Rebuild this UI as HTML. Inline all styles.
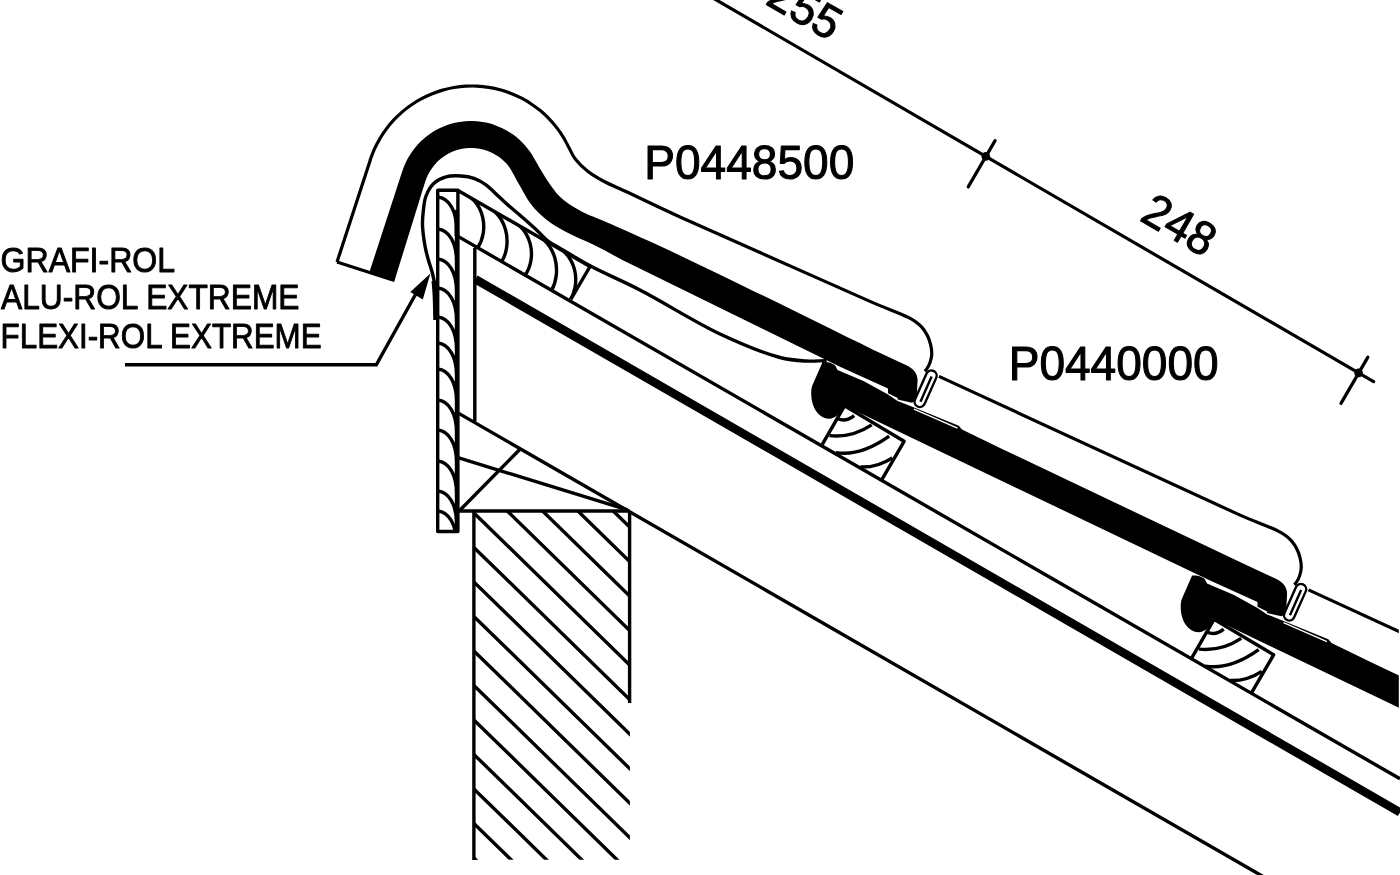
<!DOCTYPE html>
<html><head><meta charset="utf-8"><style>
html,body{margin:0;padding:0;background:#fff;width:1400px;height:875px;overflow:hidden}
svg{display:block;will-change:transform}
</style></head><body>
<svg width="1400" height="875" viewBox="0 0 1400 875">
<rect width="1400" height="875" fill="#fff"/>
<line x1="690.0" y1="-15.3" x2="1373.6" y2="381.6" stroke="#000" stroke-width="3.2" stroke-linecap="round"/>
<line x1="968.2" y1="186.9" x2="995.1" y2="140.6" stroke="#000" stroke-width="3.2" stroke-linecap="round"/>
<circle cx="985.8" cy="156.4" r="4.3"/>
<line x1="1341.0" y1="403.4" x2="1367.9" y2="357.1" stroke="#000" stroke-width="3.2" stroke-linecap="round"/>
<circle cx="1358.6" cy="372.9" r="4.3"/>
<text x="0.6" y="272" font-size="35.8" stroke-width="0.95" font-family="Liberation Sans, sans-serif" fill="#000" stroke="#000" stroke-linejoin="round" textLength="174.5" lengthAdjust="spacingAndGlyphs">GRAFI-ROL</text>
<text x="1" y="309.4" font-size="35.8" stroke-width="0.95" font-family="Liberation Sans, sans-serif" fill="#000" stroke="#000" stroke-linejoin="round" textLength="298.5" lengthAdjust="spacingAndGlyphs">ALU-ROL EXTREME</text>
<text x="0.6" y="347.6" font-size="35.8" stroke-width="0.95" font-family="Liberation Sans, sans-serif" fill="#000" stroke="#000" stroke-linejoin="round" textLength="321" lengthAdjust="spacingAndGlyphs">FLEXI-ROL EXTREME</text>
<text x="644.3" y="178.6" font-size="49" stroke-width="1.1" font-family="Liberation Sans, sans-serif" fill="#000" stroke="#000" stroke-linejoin="round" textLength="210" lengthAdjust="spacingAndGlyphs">P0448500</text>
<text x="1008.7" y="379.8" font-size="49" stroke-width="1.1" font-family="Liberation Sans, sans-serif" fill="#000" stroke="#000" stroke-linejoin="round" textLength="210" lengthAdjust="spacingAndGlyphs">P0440000</text>
<text transform="translate(1138.5,219.8) rotate(30)" font-size="47" stroke-width="1.05" font-family="Liberation Sans, sans-serif" fill="#000" stroke="#000" stroke-linejoin="round" textLength="76" lengthAdjust="spacingAndGlyphs">248</text>
<text transform="translate(764.2,3.5) rotate(30)" font-size="47" stroke-width="1.05" font-family="Liberation Sans, sans-serif" fill="#000" stroke="#000" stroke-linejoin="round" textLength="76" lengthAdjust="spacingAndGlyphs">255</text>
<polyline points="125,364.8 376.3,364.8 418,290" fill="none" stroke="#000" stroke-width="3.4"/>
<polygon points="430.4,273.5 410.3,291.9 422.8,299.4"/>
<line x1="458.0" y1="236.4" x2="1400.0" y2="778.8" stroke="#000" stroke-width="3.4" stroke-linecap="butt"/>
<line x1="475.4" y1="279.2" x2="1400.0" y2="812.3" stroke="#000" stroke-width="8.5" stroke-linecap="butt"/>
<line x1="457.9" y1="412.9" x2="1270.0" y2="880.5" stroke="#000" stroke-width="3.4" stroke-linecap="butt"/>
<line x1="474.8" y1="248.0" x2="474.8" y2="421.5" stroke="#000" stroke-width="3.4" stroke-linecap="butt"/>
<rect x="437.7" y="190.3" width="20.2" height="341.2" fill="none" stroke="#000" stroke-width="3.4" stroke-linejoin="round"/>
<clipPath id="rb"><rect x="437.7" y="190.3" width="20.2" height="341.2"/></clipPath>
<path d="M437.7,197.0 C449,198.0 456.5,211.0 456.5,229.0 L456.5,257.0 M437.7,229.0 C449,230.0 456.5,243.0 456.5,261.0 L456.5,289.0 M437.7,259.0 C449,260.0 456.5,273.0 456.5,291.0 L456.5,319.0 M437.7,288.0 C449,289.0 456.5,302.0 456.5,320.0 L456.5,348.0 M437.7,317.0 C449,318.0 456.5,331.0 456.5,349.0 L456.5,377.0 M437.7,343.0 C449,344.0 456.5,357.0 456.5,375.0 L456.5,403.0 M437.7,369.0 C449,370.0 456.5,383.0 456.5,401.0 L456.5,429.0 M437.7,400.0 C449,401.0 456.5,414.0 456.5,432.0 L456.5,460.0 M437.7,430.0 C449,431.0 456.5,444.0 456.5,462.0 L456.5,490.0 M437.7,461.0 C449,462.0 456.5,475.0 456.5,493.0 L456.5,521.0 M437.7,491.0 C449,492.0 456.5,505.0 456.5,523.0 L456.5,551.0 M437.7,511.0 C449,512.0 456.5,525.0 456.5,543.0 L456.5,571.0" fill="none" stroke="#000" stroke-width="3.4" clip-path="url(#rb)"/>
<rect x="454.6" y="210" width="4.6" height="26" fill="#000"/>
<line x1="458.0" y1="511.0" x2="629.5" y2="511.0" stroke="#000" stroke-width="3.5" stroke-linecap="butt"/>
<line x1="458.0" y1="457.7" x2="627.7" y2="509.9" stroke="#000" stroke-width="3.4" stroke-linecap="butt"/>
<line x1="459.4" y1="510.8" x2="519.7" y2="449.5" stroke="#000" stroke-width="3.4" stroke-linecap="butt"/>
<line x1="473.9" y1="511.0" x2="473.9" y2="860.0" stroke="#000" stroke-width="3.4" stroke-linecap="butt"/>
<line x1="629.6" y1="511.0" x2="629.6" y2="703.0" stroke="#000" stroke-width="3.4" stroke-linecap="butt"/>
<clipPath id="wall"><rect x="473.9" y="512" width="156" height="347.8"/></clipPath>
<path d="M53.8,-104.5 L893.8,716.1 M53.8,-70.0 L893.8,750.6 M53.8,-35.5 L893.8,785.1 M53.8,-1.0 L893.8,819.6 M53.8,33.5 L893.8,854.1 M53.8,68.0 L893.8,888.6 M53.8,102.5 L893.8,923.1 M53.8,137.0 L893.8,957.6 M53.8,171.5 L893.8,992.1 M53.8,206.0 L893.8,1026.6 M53.8,240.5 L893.8,1061.1 M53.8,275.0 L893.8,1095.6 M53.8,309.5 L893.8,1130.1 M53.8,344.0 L893.8,1164.6 M53.8,378.5 L893.8,1199.1 M53.8,413.0 L893.8,1233.6 M53.8,447.5 L893.8,1268.1" fill="none" stroke="#000" stroke-width="3.4" stroke-linecap="round" clip-path="url(#wall)"/>
<path d="M458.0,190.5 L590.0,266.5 L570.8,299.4" fill="none" stroke="#000" stroke-width="3.4" stroke-linejoin="round" />
<clipPath id="raf"><polygon points="458,190.5 590,266.5 570.8,299.4 458,236.4"/></clipPath>
<path d="M458.0,190.5 C486.5,200.5 488.5,232.0 477.7,247.7 M478.5,202.3 C509.7,212.7 511.7,245.3 501.7,261.6 M503.0,216.4 C534.5,226.7 536.5,259.0 525.2,275.1 M528.0,230.8 C559.0,241.2 561.0,273.9 551.6,290.3 M550.0,243.5 C578.5,253.5 580.5,285.0 569.7,300.7" fill="none" stroke="#000" stroke-width="3.4" clip-path="url(#raf)"/>
<path d="M436.0,320.0 C435.9,313.3 435.9,306.0 435.7,300.0 C435.5,295.0 435.6,290.8 435.0,286.3 C434.4,281.8 433.5,277.4 432.4,273.0 C431.3,268.6 429.6,264.4 428.4,260.0 C427.1,255.4 425.9,251.2 425.0,246.0 C423.9,239.7 422.7,231.2 422.5,225.0 C422.3,220.2 422.7,216.5 423.2,212.0 C423.8,206.9 424.1,200.9 426.0,196.0 C427.8,191.3 430.5,186.4 434.0,183.2 C437.3,180.1 441.6,178.0 446.0,176.8 C450.6,175.5 456.4,175.7 461.2,176.0 C465.7,176.3 469.9,177.0 474.0,178.4 C478.2,179.9 482.5,182.4 486.0,184.8 C489.1,187.0 491.1,189.3 494.0,192.0 C497.6,195.3 501.8,199.4 506.0,203.2 C510.4,207.2 515.3,211.1 520.0,215.2 C524.9,219.5 530.2,224.1 535.0,228.5 C539.5,232.7 543.4,237.4 548.0,241.0 C552.4,244.4 556.5,246.2 562.0,249.5 C569.8,254.1 579.6,260.2 590.5,266.0 C604.6,273.5 621.7,280.5 640.0,290.0 C663.6,302.2 694.9,322.2 720.0,334.0 C741.1,343.9 764.1,353.3 780.0,357.5 C789.9,360.1 796.9,360.5 805.0,361.0 C812.5,361.5 819.5,360.7 826.7,360.6" fill="none" stroke="#000" stroke-width="3.4" stroke-linejoin="round" />
<path d="M433.6,281 C434.6,290 435.2,300 435.3,320" fill="none" stroke="#000" stroke-width="4.2" stroke-linejoin="round" />
<path d="M337,262.1 L370.3,159.9 L370.2,159.9 C371.6,156.3 372.8,152.6 374.4,149.1 C376.0,145.6 377.8,142.1 379.8,138.8 C381.7,135.4 383.9,132.2 386.2,129.1 C388.5,126.0 391.0,123.0 393.6,120.2 C396.3,117.3 399.1,114.6 402.0,112.1 C404.9,109.5 408.0,107.2 411.2,105.0 C414.4,102.8 417.7,100.7 421.1,98.9 C424.5,97.0 428.0,95.4 431.6,93.9 C435.2,92.5 438.9,91.2 442.6,90.1 C446.3,89.1 450.1,88.2 453.9,87.5 C457.7,86.9 461.6,86.4 465.5,86.2 C469.3,86.0 473.2,85.9 477.1,86.1 C481.0,86.3 484.8,86.7 488.7,87.3 C492.5,87.9 496.3,88.7 500.0,89.7 C503.8,90.7 507.5,92.0 511.1,93.4 C514.7,94.8 518.2,96.4 521.6,98.2 C525.1,100.0 528.4,102.0 531.6,104.2 C534.8,106.3 537.9,108.7 540.9,111.1 C543.9,113.6 546.7,116.3 549.4,119.1 C552.1,121.9 554.6,124.9 556.9,127.9 C559.3,131.0 561.5,134.2 563.5,137.5 C565.5,140.8 567.1,144.3 569.0,147.8 C570.9,151.3 572.2,155.0 574.9,158.5 C578.1,162.8 583.1,167.6 587.7,171.3 C592.2,174.9 596.6,177.4 602.3,180.5 C609.9,184.6 619.2,188.4 629.7,193.3 C643.9,200.0 664.2,209.7 680.0,217.0 C694.1,223.4 702.4,227.0 720.0,234.8 C754.1,249.9 820.0,279.2 870.0,301.4 C895,312.5 912,316 922,327.4 C931,338 933,352 931,359 C929.5,366 927,369 924.9,371.3" fill="none" stroke="#000" stroke-width="3.2" stroke-linejoin="round" />
<line x1="337.0" y1="262.1" x2="394.4" y2="280.5" stroke="#000" stroke-width="3.2" stroke-linecap="butt"/>
<path d="M369.6,271.6 L402.5,170.6 L402.5,170.8 C403.4,168.4 404.2,165.9 405.3,163.6 C406.3,161.2 407.5,158.9 408.8,156.7 C410.1,154.5 411.5,152.3 413.1,150.3 C414.6,148.2 416.2,146.2 418.0,144.3 C419.7,142.4 421.5,140.6 423.5,138.9 C425.4,137.2 427.4,135.6 429.5,134.2 C431.6,132.7 433.8,131.3 436.0,130.1 C438.3,128.8 440.6,127.7 443.0,126.7 C445.3,125.7 447.8,124.8 450.2,124.1 C452.7,123.3 455.2,122.7 457.7,122.2 C460.2,121.8 462.8,121.4 465.4,121.2 C467.9,121.0 470.5,121.0 473.1,121.0 C475.6,121.1 478.2,121.3 480.7,121.7 C483.3,122.0 485.8,122.5 488.3,123.1 C490.8,123.7 493.3,124.5 495.7,125.4 C498.1,126.2 500.5,127.3 502.8,128.4 C505.1,129.5 507.3,130.8 509.5,132.2 C511.7,133.5 513.8,135.0 515.8,136.6 C517.8,138.2 519.7,139.9 521.5,141.7 C523.4,143.5 525.1,145.4 526.7,147.4 C528.4,149.4 529.9,151.5 531.3,153.6 C532.7,155.8 533.5,157.5 535.2,160.3 C538.1,165.2 543.1,174.2 547.4,180.5 C551.5,186.4 555.1,192.1 560.2,196.9 C565.4,201.9 571.3,205.6 578.5,209.7 C587.7,214.9 598.5,218.5 611.4,224.3 C630.1,232.7 651.5,242.0 680.0,255.4 C728.3,278.1 809.1,318.5 873.6,350.0 L873.6,350 L906.4,365.2 C913,368.5 917.6,373 917.6,380.4 L916.8,394.8 C916.5,399 914.5,402 912,402.8 L897.6,399.6 L897.6,398 L888,393.2 L888,388.4 L840,366.8 L622.4,260  C612.6,254.8 602.8,249.3 593.1,244.5 C583.9,239.9 574.0,236.3 565.7,231.7 C558.3,227.7 551.5,223.7 545.6,218.9 C540.1,214.4 535.2,209.6 531.0,204.2 C526.7,198.7 523.6,192.2 520.0,186.0 C516.3,179.6 512.0,170.8 508.8,166.4 C507.1,164.0 505.8,162.9 504.1,161.3 C502.5,159.7 500.7,158.2 498.8,156.8 C496.9,155.5 494.9,154.3 492.8,153.2 C490.7,152.2 488.6,151.3 486.4,150.5 C484.2,149.8 481.9,149.2 479.6,148.8 C477.3,148.4 475.0,148.1 472.7,148.0 C470.4,147.9 468.0,148.0 465.7,148.3 C463.4,148.5 461.1,149.0 458.8,149.6 C456.6,150.2 454.4,150.9 452.2,151.8 C450.1,152.7 448.0,153.8 446.0,155.0 C444.1,156.2 442.1,157.6 440.4,159.1 C438.6,160.5 436.9,162.2 435.3,163.9 C433.8,165.6 432.3,167.5 431.1,169.4 C429.8,171.3 428.6,173.4 427.6,175.5 C426.6,177.6 425.9,179.8 425.1,182.0 L425.1,181.9 L394.4,281 Z" fill="#000" />
<path d="M822.6,362.1 C827,361.5 833,363 835.5,366 L837.5,370 L864,381.2 L888,394.6 L897.6,400.9 L910.4,406 L958.8,425.8 L962,429.5 L1000,448 L 1243.1,563.5 L 1275.9,578.7 C 1282.5,582.0 1287.1,586.5 1287.1,593.9 L 1286.3,608.3 C 1286.0,612.5 1284.0,615.5 1281.5,616.3 L 1267.1,613.1 L 1267.1,611.5 L 1257.5,606.7 L 1257.5,601.9 L 1209.5,580.3 L843.2,405 C840.5,413 836,418.5 829,418.7 C819,418.5 812,408 811.3,396 C811,391 811.5,388 812.3,385.5 Z" fill="#000"/>
<line x1="914" y1="409.2" x2="957.5" y2="428.2" stroke="#fff" stroke-width="1.3"/>
<path d="M822.3,444.4 L844.5,405.8 L904.1,441.3 L882,479.4" fill="none" stroke="#000" stroke-width="3.4" stroke-linejoin="round"/>
<path d="M837.8,418.7 Q846.0,422.2 854.2,415.6 M829.5,435.6 Q851.8,438.0 871.7,424.8 M835.7,452.6 Q860.3,456.8 889.2,436.2 M860.4,467.0 Q877.5,467.6 892.3,457.8" fill="none" stroke="#000" stroke-width="3.4"/>
<path d="M939,376.4 L1239.5,514.9 C 1264.5,526.0 1281.5,529.5 1291.5,540.9 C 1300.5,551.5 1302.5,565.5 1300.5,572.5 C 1299.0,579.5 1296.5,582.5 1294.4,584.8" fill="none" stroke="#000" stroke-width="3.2" stroke-linejoin="round"/>
<g transform="translate(925.6,388.7) rotate(-66)"><rect x="-19.5" y="-5.3" width="39" height="10.6" rx="5.3" fill="#fff" stroke="#000" stroke-width="2.4"/><line x1="-14" y1="0.6" x2="13.5" y2="0.6" stroke="#000" stroke-width="2.4"/></g>
<clipPath id="right2"><rect x="-369.5" y="-213.5" width="1398.8" height="875"/></clipPath>
<g transform="translate(369.5,213.5)" clip-path="url(#right2)">
<path d="M822.6,362.1 C827,361.5 833,363 835.5,366 L837.5,370 L864,381.2 L888,394.6 L897.6,400.9 L910.4,406 L958.8,425.8 L962,429.5 L1000,448 L 1243.1,563.5 L 1275.9,578.7 C 1282.5,582.0 1287.1,586.5 1287.1,593.9 L 1286.3,608.3 C 1286.0,612.5 1284.0,615.5 1281.5,616.3 L 1267.1,613.1 L 1267.1,611.5 L 1257.5,606.7 L 1257.5,601.9 L 1209.5,580.3 L843.2,405 C840.5,413 836,418.5 829,418.7 C819,418.5 812,408 811.3,396 C811,391 811.5,388 812.3,385.5 Z" fill="#000"/>
<line x1="914" y1="409.2" x2="957.5" y2="428.2" stroke="#fff" stroke-width="1.3"/>
<path d="M822.3,444.4 L844.5,405.8 L904.1,441.3 L882,479.4" fill="none" stroke="#000" stroke-width="3.4" stroke-linejoin="round"/>
<path d="M837.8,418.7 Q846.0,422.2 854.2,415.6 M829.5,435.6 Q851.8,438.0 871.7,424.8 M835.7,452.6 Q860.3,456.8 889.2,436.2 M860.4,467.0 Q877.5,467.6 892.3,457.8" fill="none" stroke="#000" stroke-width="3.4"/>
<path d="M939,376.4 L1239.5,514.9 C 1264.5,526.0 1281.5,529.5 1291.5,540.9 C 1300.5,551.5 1302.5,565.5 1300.5,572.5 C 1299.0,579.5 1296.5,582.5 1294.4,584.8" fill="none" stroke="#000" stroke-width="3.2" stroke-linejoin="round"/>
<g transform="translate(925.6,388.7) rotate(-66)"><rect x="-19.5" y="-5.3" width="39" height="10.6" rx="5.3" fill="#fff" stroke="#000" stroke-width="2.4"/><line x1="-14" y1="0.6" x2="13.5" y2="0.6" stroke="#000" stroke-width="2.4"/></g>
</g>
</svg></body></html>
